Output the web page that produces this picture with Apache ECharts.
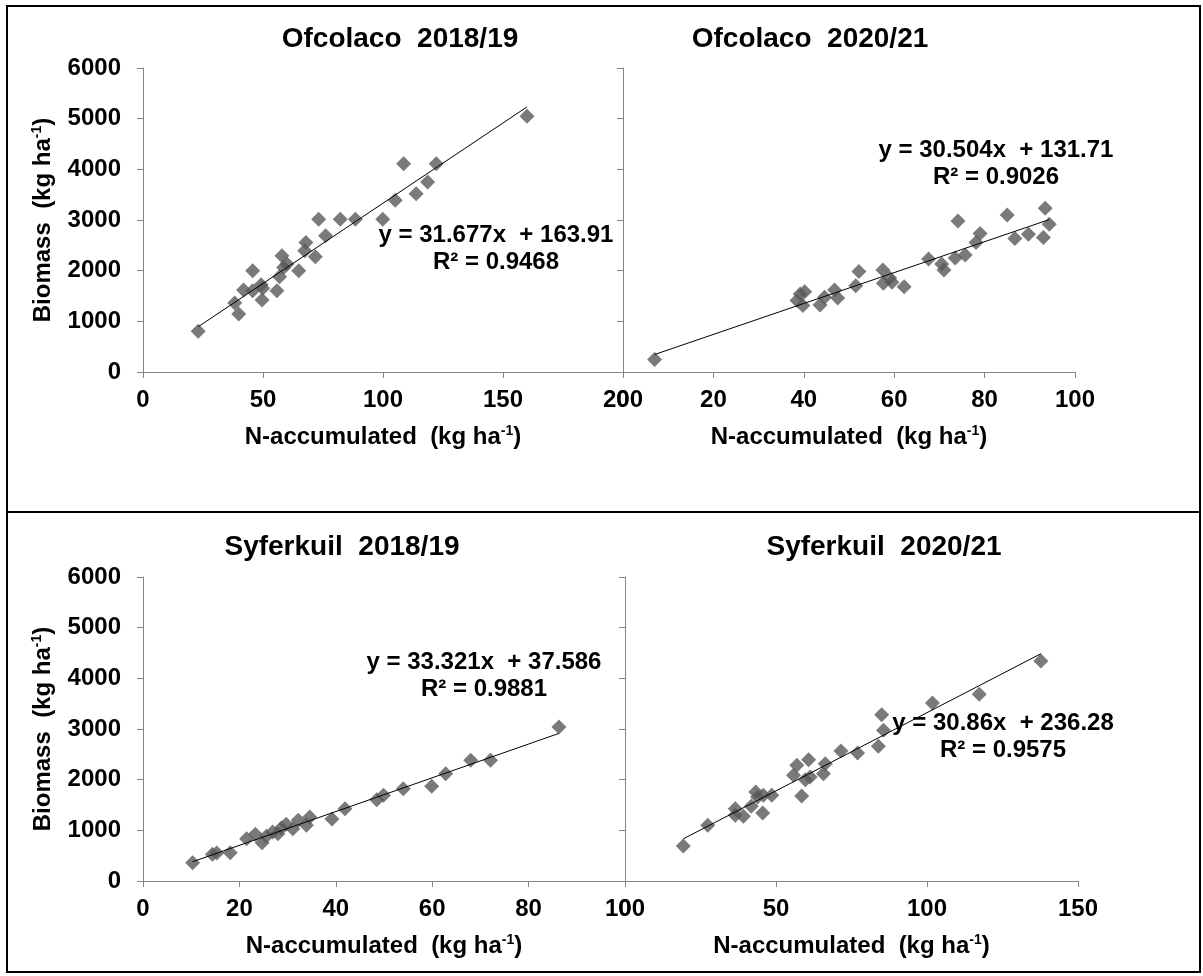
<!DOCTYPE html>
<html><head><meta charset="utf-8">
<script src="https://cdn.jsdelivr.net/npm/echarts@6/dist/echarts.min.js"></script>
<style>html,body{margin:0;padding:0;background:#fff}#c{width:1203px;height:976px}</style>
</head><body><div id="c"></div>
<script>
// ---------- DATA ----------
const panelTitles = ['Ofcolaco  2018/19', 'Ofcolaco  2020/21', 'Syferkuil  2018/19', 'Syferkuil  2020/21'];

const ofc1819_x = [23, 38.2, 39.9, 41.9, 45.7, 45.7, 49.2, 49.6, 49.9, 55.8, 56.9, 57.9, 58.6, 60, 64.9, 67.4, 67.9, 71.8, 73.2, 76.1, 82.2, 88.5, 99.9, 105.1, 108.6, 113.8, 118.6, 122.2, 160];
const ofc1819_y = [806, 1363, 1147, 1619, 1999, 1606, 1723, 1422, 1651, 1606, 1881, 2294, 2064, 2130, 1999, 2392, 2556, 2274, 3014, 2687, 3014, 3014, 3014, 3388, 4109, 3519, 3748, 4109, 5046];

const ofc2021_x = [7, 38.5, 39.2, 40.2, 39.8, 43.6, 44.6, 46.8, 47.5, 51.5, 52.2, 57.5, 57.6, 59, 59.5, 62.2, 67.6, 70.5, 71, 73.5, 74.1, 75.7, 78.1, 79, 85, 86.7, 89.7, 93, 93.4, 94.3];
const ofc2021_y = [249, 1409, 1540, 1586, 1311, 1324, 1474, 1619, 1461, 1704, 1986, 2012, 1750, 1855, 1769, 1684, 2228, 2130, 2012, 2248, 2982, 2307, 2556, 2733, 3100, 2634, 2720, 2654, 3231, 2916];

const syf1819_x = [10.3, 14.4, 15.3, 18.1, 21.5, 23.3, 24.7, 25.6, 26.9, 28, 28.7, 29.7, 31.1, 32.2, 33.9, 34.6, 39.2, 41.9, 48.5, 49.9, 54, 59.9, 62.8, 68, 72.1, 86.3];
const syf1819_y = [362, 526, 553, 559, 836, 921, 757, 882, 967, 934, 1046, 1118, 1033, 1197, 1099, 1263, 1224, 1428, 1605, 1691, 1822, 1868, 2118, 2382, 2382, 3039];

const syf2021_x = [19.3, 27.4, 36.5, 36.5, 39.2, 41.8, 43.3, 43.9, 45.6, 45.8, 48.6, 55.8, 56.9, 58.5, 59.7, 60.8, 61.3, 65.7, 66.3, 71.5, 77, 83.9, 85, 85.6, 101.8, 117.3, 137.7];
const syf2021_y = [691, 1099, 1428, 1296, 1276, 1474, 1757, 1658, 1342, 1691, 1691, 2086, 2283, 1678, 2000, 2395, 2053, 2118, 2316, 2566, 2526, 2658, 3283, 2974, 3513, 3684, 4342];

// regression equations as printed on the chart
const slopes = [31.677, 30.504, 33.321, 30.86];
const intercepts = [163.91, 131.71, 37.586, 236.28];
const r2 = ['0.9468', '0.9026', '0.9881', '0.9575'];

const xMaxes = [200, 100, 100, 150];
const xIntervals = [50, 20, 20, 50];
const yMax = 6000, yInterval = 1000;

// ---------- LAYOUT ----------
const FONT = "'Liberation Sans', Arial, Helvetica, sans-serif";
const grids = [
  {left: 143, top: 68, width: 480, height: 304},
  {left: 623, top: 68, width: 452, height: 304},
  {left: 143, top: 577, width: 482, height: 304},
  {left: 625, top: 577, width: 453, height: 304}
];
const titlePos = [[400, 39], [810, 39], [342, 547], [884, 547]];
const eqPos = [[496, 235], [996, 150], [484, 662], [1003, 723]];

const xs = [ofc1819_x, ofc2021_x, syf1819_x, syf2021_x];
const ys = [ofc1819_y, ofc2021_y, syf1819_y, syf2021_y];

const axisGray = '#868686';
const nameRich = {
  n: {fontSize: 24, fontWeight: 'bold', fontFamily: FONT, color: '#000', lineHeight: 28},
  s: {fontSize: 14, fontWeight: 'bold', fontFamily: FONT, color: '#000', lineHeight: 14, verticalAlign: 'top', padding: [1, 0, 0, 0]}
};

const xAxes = [], yAxes = [], series = [], graphics = [];
for (let i = 0; i < 4; i++) {
  xAxes.push({
    gridIndex: i, type: 'value', min: 0, max: xMaxes[i], interval: xIntervals[i],
    axisLine: {lineStyle: {color: axisGray, width: 1}},
    axisTick: {show: true, length: 6, lineStyle: {color: axisGray}},
    splitLine: {show: false},
    axisLabel: {show: true, margin: 16, fontSize: 24, fontWeight: 'bold', fontFamily: FONT, color: '#000',
      formatter: v => String(v)},
    name: '{n|N-accumulated  (kg ha}{s|-1}{n|)}',
    nameLocation: 'middle', nameGap: 51,
    nameTextStyle: {rich: nameRich}
  });
  const showY = (i % 2 === 0);
  yAxes.push({
    gridIndex: i, type: 'value', min: 0, max: yMax, interval: yInterval,
    axisLine: {show: true, lineStyle: {color: axisGray, width: 1}},
    axisTick: {show: true, length: 6, lineStyle: {color: axisGray}},
    splitLine: {show: false},
    axisLabel: {show: showY, margin: 22, fontSize: 24, fontWeight: 'bold', fontFamily: FONT, color: '#000',
      formatter: v => String(v)},
    name: showY ? '{n|Biomass  (kg ha}{s|-1}{n|)}' : '',
    nameLocation: 'middle', nameGap: 86, nameRotate: 90,
    nameTextStyle: {rich: nameRich}
  });
  const pts = xs[i].map((x, k) => [x, ys[i][k]]);
  series.push({
    type: 'scatter', xAxisIndex: i, yAxisIndex: i, data: pts,
    symbol: 'diamond', symbolSize: 15,
    itemStyle: {color: '#595959'}, z: 2, silent: true
  });
  const xmin = Math.min(...xs[i]), xmax = Math.max(...xs[i]);
  series.push({
    type: 'line', xAxisIndex: i, yAxisIndex: i,
    data: [[xmin, slopes[i] * xmin + intercepts[i]], [xmax, slopes[i] * xmax + intercepts[i]]],
    symbol: 'none', lineStyle: {color: '#000', width: 1}, z: 3, silent: true, animation: false
  });
  graphics.push({
    type: 'text', x: titlePos[i][0], y: titlePos[i][1], z: 10,
    style: {text: panelTitles[i], fontSize: 28, fontWeight: 'bold', fontFamily: FONT, fill: '#000',
      textAlign: 'center', textVerticalAlign: 'middle', align: 'center', verticalAlign: 'middle'}
  });
  graphics.push({
    type: 'text', x: eqPos[i][0], y: eqPos[i][1] - 13, z: 10,
    style: {text: 'y = ' + slopes[i] + 'x  + ' + intercepts[i] + '\nR² = ' + r2[i],
      fontSize: 24, fontWeight: 'bold', fontFamily: FONT, fill: '#000', lineHeight: 27,
      textAlign: 'center', textVerticalAlign: 'top', align: 'center', verticalAlign: 'top'}
  });
}

graphics.push({type: 'rect', shape: {x: 7, y: 6, width: 1193, height: 966}, style: {fill: 'none', stroke: '#000', lineWidth: 2}, z: 20});
graphics.push({type: 'line', shape: {x1: 7, y1: 512, x2: 1200, y2: 512}, style: {stroke: '#000', lineWidth: 2}, z: 20});

const chart = echarts.init(document.getElementById('c'), null, {renderer: 'canvas'});
chart.setOption({
  animation: false,
  backgroundColor: '#fff',
  grid: grids.map(g => Object.assign({containLabel: false}, g)),
  xAxis: xAxes, yAxis: yAxes, series: series,
  graphic: graphics
});
</script></body></html>
